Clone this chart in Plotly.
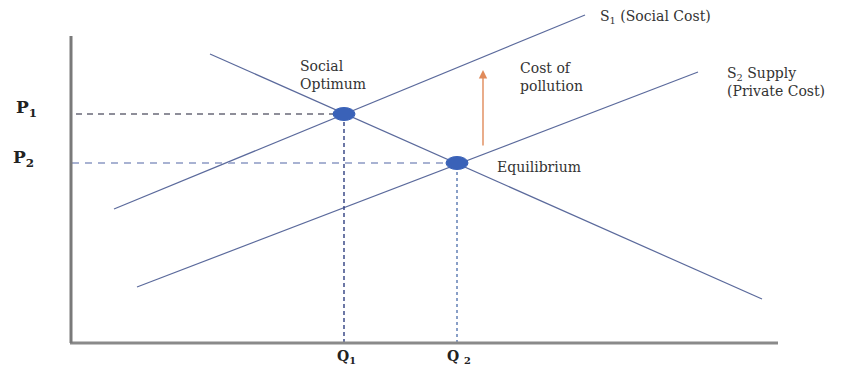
import plotly.graph_objects as go

# Data (quantity, price) in chart units
demand_q = [139, 691]
demand_p = [289, 44]
s1_q = [43, 514]
s1_p = [134, 328]
s2_q = [66, 627]
s2_p = [56, 271]
optimum_q, optimum_p = 273, 229
equil_q, equil_p = 386, 180
axis_q_max = 707
axis_p_max = 307
arrow_q = 412
arrow_p = [196, 273]

SERIF = "DejaVu Serif"
line_col = "#5b6a9c"

fig = go.Figure()
fig.add_trace(go.Scatter(x=demand_q, y=demand_p, mode="lines",
                         line=dict(color=line_col, width=1.2), hoverinfo="skip"))
fig.add_trace(go.Scatter(x=s1_q, y=s1_p, mode="lines",
                         line=dict(color=line_col, width=1.2), hoverinfo="skip"))
fig.add_trace(go.Scatter(x=s2_q, y=s2_p, mode="lines",
                         line=dict(color=line_col, width=1.2), hoverinfo="skip"))
# dashed guide lines
fig.add_trace(go.Scatter(x=[5, optimum_q], y=[optimum_p, optimum_p], mode="lines",
                         line=dict(color="#6a6a78", width=1.3, dash="6px,5px"), hoverinfo="skip"))
fig.add_trace(go.Scatter(x=[1, equil_q], y=[equil_p, equil_p], mode="lines",
                         line=dict(color="#a8b2d2", width=2, dash="7px,6px"), hoverinfo="skip"))
fig.add_trace(go.Scatter(x=[optimum_q, optimum_q], y=[0, optimum_p], mode="lines",
                         line=dict(color="#2f3f80", width=1.4, dash="4px,3px"), hoverinfo="skip"))
fig.add_trace(go.Scatter(x=[equil_q, equil_q], y=[0, equil_p], mode="lines",
                         line=dict(color="#5877b0", width=1.4, dash="3px,3px"), hoverinfo="skip"))

shapes = [
    dict(type="line", xref="x", yref="y", x0=-1, x1=axis_q_max, y0=0, y1=0,
         line=dict(color="#8a8a8a", width=3)),
    dict(type="line", xref="x", yref="y", x0=0, x1=0, y0=0, y1=axis_p_max,
         line=dict(color="#7a7a7a", width=3)),
]
for q, p in [(optimum_q, optimum_p), (equil_q, equil_p)]:
    shapes.append(dict(type="circle", xref="x", yref="y", x0=q - 11, x1=q + 11,
                       y0=p - 6.5, y1=p + 6.5, fillcolor="#3a62b8",
                       line=dict(color="#3a62b8", width=1)))

txt = dict(family=SERIF, size=14, color="#333333")
ann = [
    (527, 326, "S<sub>1</sub> (Social Cost)"),
    (654, 261, "S<sub>2</sub> Supply<br>(Private Cost)"),
    (227, 268, "Social<br>Optimum"),
    (447, 266, "Cost of<br>pollution"),
    (424, 176, "Equilibrium"),
]
annotations = []
for x, y, t in ann:
    annotations.append(dict(x=x, y=y, text=t, xref="x", yref="y", showarrow=False,
                            font=txt, xanchor="left", yanchor="middle", align="left"))
for x, y, t, s in [(-45, 235, "<b>P<sub>1</sub></b>", 17), (-48, 185, "<b>P<sub>2</sub></b>", 17),
                   (optimum_q + 2, -14, "<b>Q<sub>1</sub></b>", 14),
                   (equil_q + 2, -14, "<b>Q <sub>2</sub></b>", 14)]:
    annotations.append(dict(x=x, y=y, text=t, xref="x", yref="y", showarrow=False,
                            font=dict(family=SERIF, size=s, color="#222222"),
                            xanchor="center", yanchor="middle"))
annotations.append(dict(x=arrow_q, y=arrow_p[1], ax=arrow_q, ay=arrow_p[0],
                        xref="x", yref="y", axref="x", ayref="y", text="",
                        showarrow=True, arrowhead=2, arrowsize=1.2, arrowwidth=1.4,
                        arrowcolor="#e08a5a"))

# page body has an 8px offset; ranges place the data so the axes land where they should
fig.update_layout(
    width=860, height=368,
    margin=dict(l=0, r=0, t=0, b=0),
    plot_bgcolor="white", paper_bgcolor="white",
    showlegend=False,
    xaxis=dict(range=[-63, 797], visible=False, fixedrange=True),
    yaxis=dict(range=[-33, 335], visible=False, fixedrange=True),
    shapes=shapes, annotations=annotations,
)
fig.write_html("out.html")
